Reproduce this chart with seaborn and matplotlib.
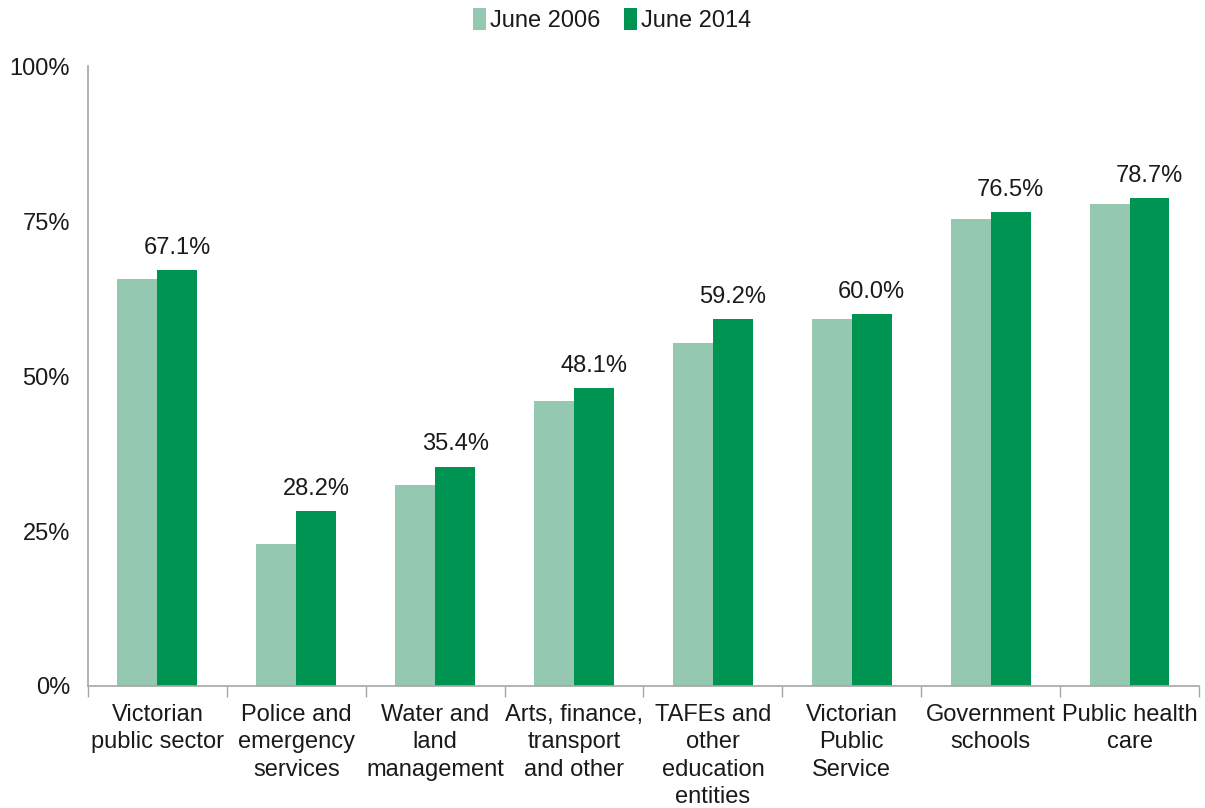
import matplotlib
matplotlib.use("Agg")
import matplotlib.pyplot as plt
from matplotlib.ticker import FixedLocator, PercentFormatter
from matplotlib.patches import Patch
import seaborn as sns
import pandas as pd

categories = [
    "Victorian\npublic sector",
    "Police and\nemergency\nservices",
    "Water and\nland\nmanagement",
    "Arts, finance,\ntransport\nand other",
    "TAFEs and\nother\neducation\nentities",
    "Victorian\nPublic\nService",
    "Government\nschools",
    "Public health\ncare",
]
june_2006 = [65.6, 22.9, 32.4, 46.0, 55.4, 59.2, 75.3, 77.7]
june_2014 = [67.1, 28.2, 35.4, 48.1, 59.2, 60.0, 76.5, 78.7]
series = ["June 2006", "June 2014"]
colors = ["#95C8B0", "#009453"]

df = pd.DataFrame({
    "category": categories * 2,
    "value": june_2006 + june_2014,
    "series": [series[0]] * len(categories) + [series[1]] * len(categories),
})

sns.set_theme(style="white")
plt.rcParams["font.family"] = ["Liberation Sans", "DejaVu Sans"]
FS = 17
AXIS_GREY = "#A6A6A6"

fig = plt.figure(figsize=(12.05, 8.08), dpi=100)
ax = fig.add_axes([0.073, 0.151, 0.922, 0.767])

sns.barplot(
    data=df, x="category", y="value", hue="series", order=categories,
    hue_order=series, palette=colors, width=0.575, linewidth=0,
    saturation=1, ax=ax, legend=False,
)

# value labels above the June 2014 bars
ax.bar_label(ax.containers[1], fmt="{:.1f}%", padding=8, fontsize=FS,
             color="#1a1a1a")

ax.set_ylim(0, 100)
ax.set_xlim(-0.5, len(categories) - 0.5)
ax.yaxis.set_major_locator(FixedLocator([0, 25, 50, 75, 100]))
ax.yaxis.set_major_formatter(PercentFormatter(decimals=0))
ax.set_xlabel("")
ax.set_ylabel("")

# category boundaries carry the x tick marks
ax.set_xticks(range(len(categories)))
ax.set_xticklabels(categories, fontsize=FS, color="#1a1a1a", linespacing=1.32,
                   va="top")
ax.set_xticks([i - 0.5 for i in range(len(categories) + 1)], minor=True)
ax.tick_params(axis="x", which="major", length=0, pad=13)
ax.tick_params(axis="x", which="minor", length=8, width=1, color=AXIS_GREY,
               direction="out")
ax.tick_params(axis="y", length=7, width=1, color=AXIS_GREY, direction="out",
               labelsize=FS, labelcolor="#1a1a1a", pad=6)
ax.tick_params(axis="x", which="both", bottom=True)

for side in ("top", "right"):
    ax.spines[side].set_visible(False)
for side in ("left", "bottom"):
    ax.spines[side].set_color(AXIS_GREY)
    ax.spines[side].set_linewidth(1.2)
ax.grid(False)

handles = [Patch(facecolor=c, edgecolor="none") for c in colors]
fig.legend(handles, series, loc="center", bbox_to_anchor=(0.508, 0.975),
           ncol=2, frameon=False, fontsize=FS, handlelength=0.55,
           handleheight=1.0, handletextpad=0.15, columnspacing=1.0,
           labelcolor="#1a1a1a")

fig.savefig("out.png", dpi=100, facecolor="white")
